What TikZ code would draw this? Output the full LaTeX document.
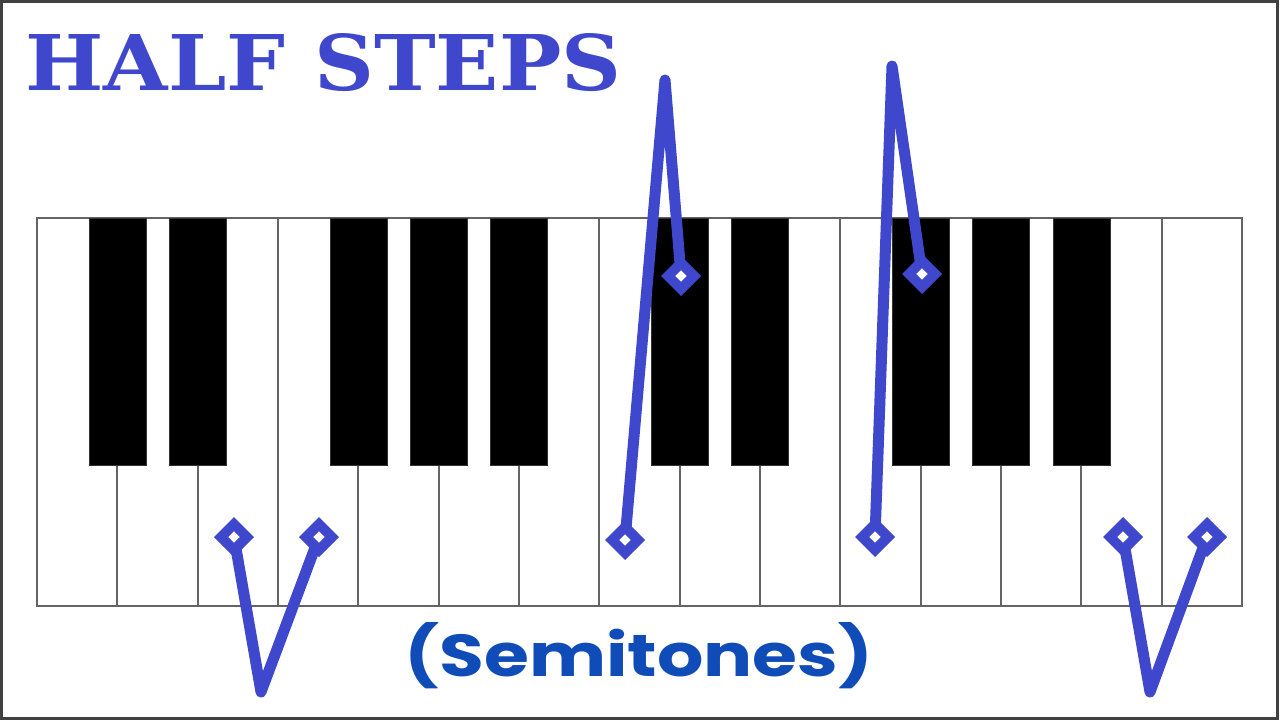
\documentclass[tikz,border=0pt]{standalone}
\usepackage{fontspec}
\usepackage{graphicx}
\usetikzlibrary{shapes.geometric}
\newfontfamily\titlefont{DejaVu Serif}
\newfontfamily\semifont{Poppins}
\definecolor{paintblue}{RGB}{63,72,204}
\definecolor{semiblue}{RGB}{16,76,184}
\definecolor{keyline}{RGB}{100,100,100}
\tikzset{
  keyoutline/.style={draw=keyline, line width=1.8pt},
  blackkey/.style={fill=black, draw=black!80, line width=0.6pt},
  marker/.style={shape=diamond, draw=paintblue, fill=white, line width=10pt, minimum size=30pt, inner sep=0pt},
  stroke/.style={draw=paintblue, line width=11pt, line join=round, line cap=round},
}
\begin{document}
\begin{tikzpicture}[x=1pt,y=-1pt]
\useasboundingbox (0,0) rectangle (1280,720);
\fill[white] (0,0) rectangle (1280,720);
\draw[black!75, line width=3pt] (1.5,1) rectangle (1277,718.5);
% keyboard
\def\wk{80.333}
\draw[keyoutline] (37,218) rectangle (1242,606);
\foreach \k in {3,7,10,14} {
  \draw[keyoutline] ({37+\k*\wk},218) -- ({37+\k*\wk},606);
}
\foreach \k in {1,2,4,5,6,8,9,11,12,13} {
  \draw[keyoutline] ({37+\k*\wk},465) -- ({37+\k*\wk},606);
  \fill[blackkey] ({37+\k*\wk-28.5},218) rectangle ({37+\k*\wk+28.5},465);
}
% title texts
\node[anchor=base west, inner sep=0pt, text=paintblue] (title) at (25,90)
  {\resizebox{596pt}{57pt}{\titlefont\bfseries HALF STEPS}};
\node[anchor=base, inner sep=0pt, text=semiblue] (semi) at (639,676)
  {\resizebox{468pt}{54pt}{\semifont\bfseries (Semitones)}};
% left V
\coordinate (av) at (261,692);
\draw[stroke] (234,537) -- (av) -- (319,537);
\node[marker] (a1) at (234,537) {};
\node[marker] (a2) at (319,537) {};
% first peak
\coordinate (bp) at (665,80);
\draw[stroke] (625,540) -- (bp) -- (681,276);
\node[marker] (b1) at (625,540) {};
\node[marker] (b2) at (681,276) {};
% second peak
\coordinate (cp) at (892,66);
\draw[stroke] (875,537) -- (cp) -- (922,274);
\node[marker] (c1) at (875,537) {};
\node[marker] (c2) at (922,274) {};
% right V
\coordinate (dv) at (1150,692);
\draw[stroke] (1123,537) -- (dv) -- (1207,537);
\node[marker] (d1) at (1123,537) {};
\node[marker] (d2) at (1207,537) {};
\end{tikzpicture}
\end{document}
